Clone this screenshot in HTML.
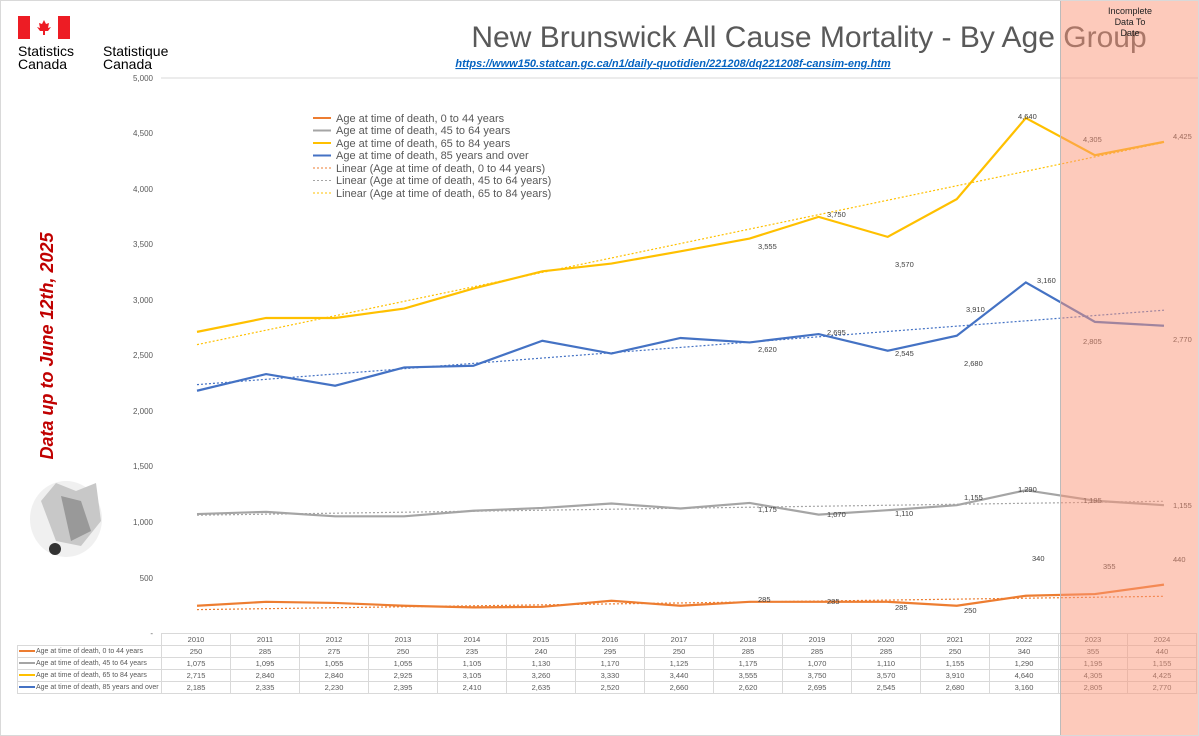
<!DOCTYPE html>
<html><head><meta charset="utf-8"><style>
body{margin:0;background:#fff;}
#c{position:relative;width:1199px;height:736px;overflow:hidden;font-family:"Liberation Sans",sans-serif;border:1px solid #d9d9d9;box-sizing:border-box;}
.t{position:absolute;}
table{border-collapse:collapse;font-size:7.5px;color:#595959;table-layout:fixed;width:1179px;}
td{border:1px solid #d9d9d9;height:11px;padding:0;text-align:center;width:69px;overflow:hidden;}
td.l{width:144px;text-align:left;white-space:nowrap;font-size:7px;}
.sw{display:inline-block;width:16px;height:2px;vertical-align:middle;margin:0 1px 0 1px;}
</style></head><body><div id="c">
<svg class="t" style="left:0;top:0" width="1199" height="736">
<rect x="17" y="15" width="12" height="23" fill="#ed1c24"/><rect x="57" y="15" width="12" height="23" fill="#ed1c24"/>
<path d="M43 19 l2 4 3-1 -1 5 3-1 -3 4 h-3 v4 h-2 v-4 h-3 l-3-4 3 1 -1-5 3 1z" fill="#ed1c24"/>
<text x="17" y="55" font-size="14" fill="#000">Statistics</text><text x="17" y="68" font-size="14">Canada</text>
<text x="102" y="55" font-size="14">Statistique</text><text x="102" y="68" font-size="14">Canada</text>
<text x="808" y="46" font-size="30" fill="#595959" text-anchor="middle">New Brunswick All Cause Mortality - By Age Group</text>
<text x="672" y="66" font-size="11" fill="#0563c1" font-weight="bold" font-style="italic" text-anchor="middle" text-decoration="underline">https://www150.statcan.gc.ca/n1/daily-quotidien/221208/dq221208f-cansim-eng.htm</text>
<line x1="160" y1="77" x2="1199" y2="77" stroke="#d9d9d9"/>
<g font-size="8" fill="#595959" text-anchor="end">
<text x="152" y="80">5,000</text><text x="152" y="135">4,500</text><text x="152" y="191">4,000</text><text x="152" y="246">3,500</text><text x="152" y="302">3,000</text><text x="152" y="357">2,500</text><text x="152" y="413">2,000</text><text x="152" y="468">1,500</text><text x="152" y="524">1,000</text><text x="152" y="580">500</text><text x="152" y="635">-</text></g>
<text transform="translate(52,345) rotate(-90)" font-size="18" fill="#c00000" font-weight="bold" font-style="italic" text-anchor="middle">Data up to June 12th, 2025</text>
<ellipse cx="65" cy="518" rx="36" ry="38" fill="#f0f0f0"/><path d="M40 500 L55 482 L75 490 L95 482 L100 520 L80 545 L55 540 Z" fill="#c8c8c8"/><path d="M60 495 L80 500 L90 530 L70 540 Z" fill="#999"/><circle cx="54" cy="548" r="6" fill="#333"/>
<g transform="translate(196,632.5) scale(69.07,-0.1111)" fill="none" stroke-width="1.2">
<polyline vector-effect="non-scaling-stroke" stroke-dasharray="2 2" stroke="#ed7d31" points="0,215 14,335"/>
<polyline vector-effect="non-scaling-stroke" stroke-dasharray="2 2" stroke="#a5a5a5" points="0,1065 14,1190"/>
<polyline vector-effect="non-scaling-stroke" stroke-dasharray="2 2" stroke="#ffc000" points="0,2600 14,4420"/>
<polyline vector-effect="non-scaling-stroke" stroke-dasharray="2 2" stroke="#4472c4" points="0,2240 14,2910"/>
<polyline vector-effect="non-scaling-stroke" stroke-width="2.2" stroke="#ed7d31" points="0,250 1,285 2,275 3,250 4,235 5,240 6,295 7,250 8,285 9,285 10,285 11,250 12,340 13,355 14,440"/>
<polyline vector-effect="non-scaling-stroke" stroke-width="2.2" stroke="#a5a5a5" points="0,1075 1,1095 2,1055 3,1055 4,1105 5,1130 6,1170 7,1125 8,1175 9,1070 10,1110 11,1155 12,1290 13,1195 14,1155"/>
<polyline vector-effect="non-scaling-stroke" stroke-width="2.2" stroke="#ffc000" points="0,2715 1,2840 2,2840 3,2925 4,3105 5,3260 6,3330 7,3440 8,3555 9,3750 10,3570 11,3910 12,4640 13,4305 14,4425"/>
<polyline vector-effect="non-scaling-stroke" stroke-width="2.2" stroke="#4472c4" points="0,2185 1,2335 2,2230 3,2395 4,2410 5,2635 6,2520 7,2660 8,2620 9,2695 10,2545 11,2680 12,3160 13,2805 14,2770"/>
</g>
<g font-size="7.5" fill="#404040">
<text x="1017" y="118">4,640</text><text x="1082" y="141">4,305</text><text x="1172" y="138">4,425</text>
<text x="757" y="248">3,555</text><text x="826" y="216">3,750</text><text x="894" y="266">3,570</text><text x="965" y="311">3,910</text>
<text x="1036" y="282">3,160</text><text x="1082" y="343">2,805</text><text x="1172" y="341">2,770</text>
<text x="757" y="351">2,620</text><text x="826" y="334">2,695</text><text x="894" y="355">2,545</text><text x="963" y="365">2,680</text>
<text x="1017" y="491">1,290</text><text x="1082" y="502">1,195</text><text x="1172" y="507">1,155</text>
<text x="757" y="511">1,175</text><text x="826" y="516">1,070</text><text x="894" y="515">1,110</text><text x="963" y="499">1,155</text>
<text x="1031" y="560">340</text><text x="1102" y="568">355</text><text x="1172" y="561">440</text>
<text x="757" y="601">285</text><text x="826" y="603">285</text><text x="894" y="609">285</text><text x="963" y="612">250</text>
</g>
<g font-size="11" fill="#595959">
<line x1="312" y1="117" x2="330" y2="117" stroke="#ed7d31" stroke-width="2"/><text x="335" y="121">Age at time of death, 0 to 44 years</text>
<line x1="312" y1="129.5" x2="330" y2="129.5" stroke="#a5a5a5" stroke-width="2"/><text x="335" y="133">Age at time of death, 45 to 64 years</text>
<line x1="312" y1="142" x2="330" y2="142" stroke="#ffc000" stroke-width="2"/><text x="335" y="146">Age at time of death, 65 to 84 years</text>
<line x1="312" y1="154.5" x2="330" y2="154.5" stroke="#4472c4" stroke-width="2"/><text x="335" y="158">Age at time of death, 85 years and over</text>
<line x1="312" y1="167" x2="330" y2="167" stroke="#ed7d31" stroke-dasharray="2 2"/><text x="335" y="171">Linear (Age at time of death, 0 to 44 years)</text>
<line x1="312" y1="179.5" x2="330" y2="179.5" stroke="#a5a5a5" stroke-dasharray="2 2"/><text x="335" y="183">Linear (Age at time of death, 45 to 64 years)</text>
<line x1="312" y1="192" x2="330" y2="192" stroke="#ffc000" stroke-dasharray="2 2"/><text x="335" y="196">Linear (Age at time of death, 65 to 84 years)</text>
</g>
</svg>
<table class="t" style="left:16px;top:632px">
<colgroup><col style="width:144px"><col span="15" style="width:69px"></colgroup>
<tr><td class="l" style="border-left:none;border-top:none"></td><td>2010</td><td>2011</td><td>2012</td><td>2013</td><td>2014</td><td>2015</td><td>2016</td><td>2017</td><td>2018</td><td>2019</td><td>2020</td><td>2021</td><td>2022</td><td>2023</td><td>2024</td></tr>
<tr><td class="l"><span class="sw" style="background:#ed7d31"></span>Age at time of death, 0 to 44 years</td><td>250</td><td>285</td><td>275</td><td>250</td><td>235</td><td>240</td><td>295</td><td>250</td><td>285</td><td>285</td><td>285</td><td>250</td><td>340</td><td>355</td><td>440</td></tr>
<tr><td class="l"><span class="sw" style="background:#a5a5a5"></span>Age at time of death, 45 to 64 years</td><td>1,075</td><td>1,095</td><td>1,055</td><td>1,055</td><td>1,105</td><td>1,130</td><td>1,170</td><td>1,125</td><td>1,175</td><td>1,070</td><td>1,110</td><td>1,155</td><td>1,290</td><td>1,195</td><td>1,155</td></tr>
<tr><td class="l"><span class="sw" style="background:#ffc000"></span>Age at time of death, 65 to 84 years</td><td>2,715</td><td>2,840</td><td>2,840</td><td>2,925</td><td>3,105</td><td>3,260</td><td>3,330</td><td>3,440</td><td>3,555</td><td>3,750</td><td>3,570</td><td>3,910</td><td>4,640</td><td>4,305</td><td>4,425</td></tr>
<tr><td class="l"><span class="sw" style="background:#4472c4"></span>Age at time of death, 85 years and over</td><td>2,185</td><td>2,335</td><td>2,230</td><td>2,395</td><td>2,410</td><td>2,635</td><td>2,520</td><td>2,660</td><td>2,620</td><td>2,695</td><td>2,545</td><td>2,680</td><td>3,160</td><td>2,805</td><td>2,770</td></tr>
</table>
<div class="t" style="left:1059px;top:0;width:140px;height:736px;background:rgba(252,150,120,0.5);border-left:1px solid #bbb"></div>
<div class="t" style="left:1059px;top:5px;width:140px;text-align:center;font-size:9px;line-height:11px;color:#222">Incomplete<br>Data To<br>Date</div>
</div></body></html>
